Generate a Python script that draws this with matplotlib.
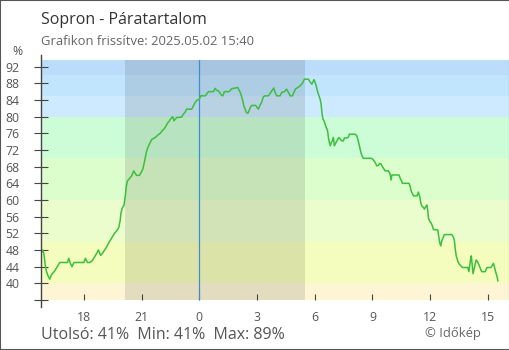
import matplotlib
matplotlib.use("Agg")
import matplotlib.pyplot as plt
from matplotlib.patches import Rectangle

# hours relative to midnight (negative = previous day) and humidity in %
hours = [-8.25, -8.14, -8.08, -8.01, -7.96, -7.87, -7.78, -7.70, -7.52, -7.35,
         -7.26, -6.86, -6.79, -6.69, -6.62, -6.52, -6.00, -5.93, -5.82, -5.70,
         -5.58, -5.44, -5.30, -5.25, -5.13, -5.01, -4.84, -4.70, -4.58, -4.44,
         -4.30, -4.19, -4.12, -4.07, -4.00, -3.92, -3.85, -3.80, -3.74, -3.64,
         -3.52, -3.41, -3.34, -3.26, -3.12, -3.05, -2.94, -2.88, -2.82, -2.77,
         -2.70, -2.63, -2.56, -2.46, -2.29, -2.18, -2.04, -1.90, -1.84, -1.73,
         -1.66, -1.56, -1.44, -1.38, -1.32, -1.26, -1.18, -0.92, -0.83, -0.74,
         -0.66, -0.40, -0.31, -0.22, -0.14, 0.00, 0.07, 0.30, 0.38, 0.47,
         0.73, 0.82, 0.90, 0.99, 1.08, 1.16, 1.22, 1.30, 1.54, 1.68,
         2.00, 2.06, 2.13, 2.20, 2.26, 2.31, 2.38, 2.44, 2.52, 2.58,
         2.65, 2.72, 2.93, 3.00, 3.07, 3.14, 3.24, 3.33, 3.42, 3.59,
         3.68, 3.80, 3.87, 3.94, 4.02, 4.20, 4.28, 4.42, 4.54, 4.63,
         4.72, 4.84, 4.91, 5.01, 5.12, 5.24, 5.36, 5.46, 5.67, 5.76,
         5.85, 5.96, 6.02, 6.07, 6.12, 6.16, 6.22, 6.28, 6.33, 6.37,
         6.42, 6.48, 6.54, 6.59, 6.64, 6.68, 6.71, 6.76, 6.81, 6.85,
         6.92, 6.97, 7.02, 7.06, 7.12, 7.20, 7.26, 7.33, 7.40, 7.49,
         7.54, 7.66, 7.75, 7.80, 8.10, 8.19, 8.24, 8.30, 8.36, 8.41,
         8.48, 8.53, 8.96, 9.05, 9.14, 9.22, 9.31, 9.38, 9.45, 9.52,
         9.59, 9.66, 9.83, 9.92, 9.97, 10.01, 10.38, 10.45, 10.52, 10.56,
         10.90, 10.96, 11.01, 11.08, 11.13, 11.32, 11.39, 11.46, 11.51, 11.56,
         11.65, 11.70, 11.77, 11.83, 11.88, 11.91, 11.98, 12.05, 12.12, 12.17,
         12.40, 12.45, 12.50, 12.55, 12.60, 12.69, 12.74, 13.13, 13.21, 13.26,
         13.31, 13.36, 13.44, 13.50, 13.59, 13.68, 13.96, 14.01, 14.06, 14.11,
         14.14, 14.18, 14.23, 14.28, 14.34, 14.39, 14.46, 14.54, 14.61, 14.68,
         14.86, 14.95, 15.17, 15.24, 15.29, 15.34, 15.38, 15.43, 15.48, 15.52]
humidity = [47, 48, 47, 44.2, 43, 41.8, 41, 42, 43, 44.3,
            45, 45, 46, 44.6, 44, 45, 45, 46, 45, 45,
            45.4, 46.4, 47.5, 48, 46.7, 47.4, 48.6, 49.8, 50.7, 51.8,
            52.6, 53.4, 55, 57, 58.2, 58.7, 61, 63.2, 64.6, 65.1,
            65.8, 67, 66.4, 65.9, 65.9, 66.4, 67.4, 68.6, 69.9, 71.2,
            72.3, 73.1, 73.8, 74.6, 75, 75.5, 76, 76.8, 77, 77.8,
            78.4, 79, 79.8, 80, 79, 79.4, 79.8, 79.9, 80.6, 81.1,
            81.8, 81.8, 82.6, 83.4, 83.9, 84.2, 85, 85, 85.4, 86,
            86, 86.8, 86.3, 86.2, 85.6, 85.1, 85, 86, 86, 86.7,
            87, 86.4, 85.8, 84.8, 83.8, 82.6, 81.8, 81, 80.8, 81.4,
            82.2, 82.7, 82.7, 82.2, 81.8, 82.6, 83.5, 84.8, 85, 85,
            85.6, 86.4, 86.9, 85.8, 85, 85, 85.8, 86, 86.6, 85.8,
            85, 85, 85.8, 86.7, 87, 87.4, 88, 89, 89, 88.3,
            87.8, 88.9, 88.2, 87.5, 86.6, 85.8, 85, 84.2, 83, 81.1,
            79.5, 79, 78.2, 77.4, 77, 76.2, 75, 73.8, 73, 73.8,
            74.2, 75, 73, 73.4, 73.9, 74.6, 75, 74.6, 74.2, 74.2,
            74.9, 74.9, 75.1, 75.8, 75.8, 75.4, 74.6, 73.4, 72.2, 71.2,
            70.4, 70, 70, 69.6, 69, 68.2, 68.3, 68.8, 68.6, 68,
            67.5, 67, 67, 66.2, 64.8, 66, 66, 65.1, 64.5, 64,
            64, 63.3, 62.2, 61.5, 61, 61, 61.9, 60.8, 59.4, 58.6,
            58.2, 57.8, 58.4, 58.8, 57.3, 55.7, 54.9, 54.5, 53.7, 52.9,
            52.8, 51.1, 49.7, 49, 50.1, 51.1, 51.7, 51.7, 51.1, 50.3,
            48.1, 46.5, 45.3, 44.7, 44.2, 43.8, 43.8, 42.8, 44.4, 46,
            46.6, 44.8, 42.3, 43.3, 44.4, 45.6, 45.2, 44.4, 43.6, 42.8,
            42.8, 43.8, 43.8, 44.4, 44.8, 44, 43.2, 42.4, 41.6, 40.6]

tick_hours = [-6, -3, 0, 3, 6, 9, 12, 15]
tick_labels = ['18', '21', '0', '3', '6', '9', '12', '15']
y_ticks = [36, 40, 44, 48, 52, 56, 60, 64, 68, 72, 76, 80, 84, 88, 92]

# humidity colour bands (lower, upper, colour)
band_edges = [0, 40, 50, 60, 70, 80, 85, 90, 100]
band_colors = ['#fdf5d4', '#f4fdbd', '#ecfdcd', '#dcfdcc', '#ccfdd6',
               '#cdeafe', '#c0e5fd', '#bbdcfb']

sunset, sunrise = -3.86, 5.50
title = 'Sopron - Páratartalom'
subtitle = 'Grafikon frissítve: 2025.05.02 15:40'
stats = 'Utolsó: 41%  Min: 41%  Max: 89%'

plt.rcParams['font.family'] = ['Open Sans', 'DejaVu Sans']

W, H = 510, 350
fig = plt.figure(figsize=(W / 100, H / 100), dpi=100)


def fx(px):
    return px / W


def fy(py):
    return 1 - py / H


ax = fig.add_axes([fx(40.7), fy(300), fx(509) - fx(40.7), fy(60) - fy(300)])
ax.set_xlim(-8.25, 16.1)
ax.set_ylim(36, 93.6)

for lo, hi, c in zip(band_edges[:-1], band_edges[1:], band_colors):
    ax.axhspan(lo, hi, color=c, lw=0, zorder=0)

ax.axvspan(sunset, sunrise, color='black', alpha=0.1, lw=0, zorder=1)
ax.axvline(0, color='#3a8fcf', lw=0.9, zorder=2)
ax.plot(hours, humidity, color='#3cbf3c', lw=1.1, zorder=3)

for s in ax.spines.values():
    s.set_visible(False)
# left axis line runs a bit past the plot area
ax.plot([0, 0], [-0.03, 1.022], transform=ax.transAxes, color='#444444',
        lw=1, clip_on=False, zorder=5)

ax.set_yticks(y_ticks)
ax.set_yticklabels([''] + [str(v) for v in y_ticks[1:]])
ax.tick_params(axis='y', direction='inout', length=9.5, width=0.8,
               color='#444444', pad=10.5, labelsize=8.8, labelcolor='#555555')
ax.set_xticks(tick_hours)
ax.set_xticklabels(tick_labels)
ax.tick_params(axis='x', direction='in', length=4.5, width=0.8,
               color='#444444', pad=8, labelsize=8.8, labelcolor='#555555')

fig.text(fx(41), fy(24.3), title, fontsize=11.5, color='#333333', va='baseline')
fig.text(fx(41), fy(45), subtitle, fontsize=9.4, color='#666666', va='baseline')
fig.text(fx(17.4), fy(55), '%', fontsize=8.8, color='#555555',
         ha='center', va='baseline')
fig.text(fx(41), fy(339.3), stats, fontsize=11.5, color='#555555', va='baseline')
fig.text(fx(425), fy(336.7), '© Időkép', fontsize=9.4, color='#666666',
         va='baseline')

# thin frame around the whole image
fig.patches.append(Rectangle((0, 0), 1, 1, transform=fig.transFigure,
                             fill=False, edgecolor='#555555', lw=1.5))

fig.savefig('out.png', dpi=100)
